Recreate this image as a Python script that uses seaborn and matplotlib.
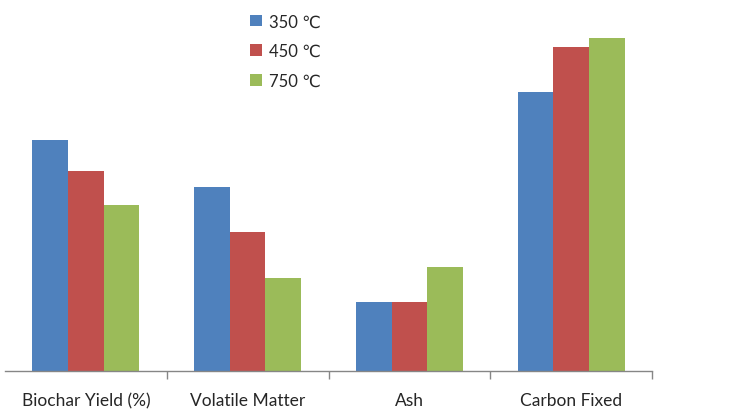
import pandas as pd
import seaborn as sns
import matplotlib.pyplot as plt

categories = ["Biochar Yield (%)", "Volatile Matter", "Ash", "Carbon Fixed"]
temps = ["350 ℃", "450 ℃", "750 ℃"]
vals_350 = [50.2, 40.0, 15.0, 60.7]
vals_450 = [43.5, 30.2, 15.0, 70.4]
vals_750 = [36.1, 20.2, 22.6, 72.4]

colors = ["#4F81BD", "#C0504D", "#9BBB59"]

rows = []
for t, vals in zip(temps, [vals_350, vals_450, vals_750]):
    for c, v in zip(categories, vals):
        rows.append({"Category": c, "Temp": t, "Value": v})
df = pd.DataFrame(rows)

sns.set_style("white")
plt.rcParams["font.family"] = ["Lato", "DejaVu Sans"]

fig = plt.figure(figsize=(7.35, 4.10), dpi=100)
ax = fig.add_axes([5 / 735, 38 / 410, 647 / 735, 368 / 410])

sns.barplot(data=df, x="Category", y="Value", hue="Temp", order=categories,
            hue_order=temps, palette=colors, width=0.66, saturation=1,
            linewidth=0, ax=ax)

ax.set_xlim(-0.5, 3.5)
ax.set_ylim(0, 80)
ax.set_xlabel("")
ax.set_ylabel("")
ax.set_yticks([])
for s in ["top", "right", "left"]:
    ax.spines[s].set_visible(False)
ax.spines["bottom"].set_color("#868686")
ax.spines["bottom"].set_linewidth(1)

# tick marks sit between the categories, labels stay centred
ax.set_xticks([0.5, 1.5, 2.5, 3.5], minor=True)
ax.tick_params(axis="x", which="major", length=0, pad=15, labelsize=12.5,
               labelcolor="#262626")
ax.tick_params(axis="x", which="minor", length=6, width=1, color="#868686",
               direction="out", bottom=True)

leg = ax.legend(loc="upper left", bbox_to_anchor=(242 / 735, 1 - 6 / 410),
                bbox_transform=fig.transFigure, frameon=False, fontsize=12,
                handlelength=0.7, handleheight=0.7, handletextpad=0.4,
                labelspacing=0.82, borderpad=0)
for t in leg.get_texts():
    t.set_color("#262626")

fig.savefig("out.png", dpi=100)
